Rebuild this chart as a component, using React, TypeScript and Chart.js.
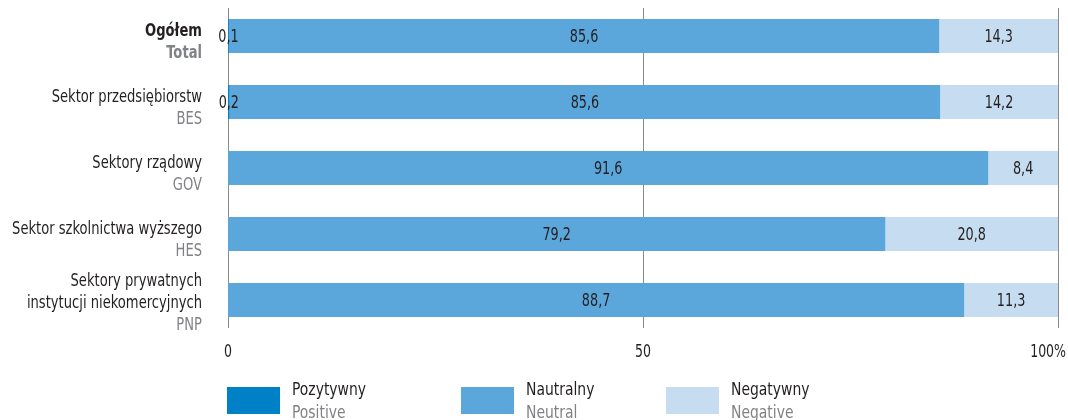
import React, { useEffect, useRef } from "react";
import { Chart, registerables } from "chart.js";

Chart.register(...registerables);

const categoriesPl: string[][] = [
  ["Ogółem"],
  ["Sektor przedsiębiorstw"],
  ["Sektory rządowy"],
  ["Sektor szkolnictwa wyższego"],
  ["Sektory prywatnych", "instytucji niekomercyjnych"],
];
const categoriesEn: string[] = ["Total", "BES", "GOV", "HES", "PNP"];

const positive: number[] = [0.1, 0.2, 0, 0, 0];
const neutral: number[] = [85.6, 85.6, 91.6, 79.2, 88.7];
const negative: number[] = [14.3, 14.2, 8.4, 20.8, 11.3];

const seriesPl: string[] = ["Pozytywny", "Nautralny", "Negatywny"];
const seriesEn: string[] = ["Positive", "Neutral", "Negative"];
const seriesColors: string[] = ["#0080C6", "#5BA6DA", "#C6DCF0"];

const xTicks: number[] = [0, 50, 100];

const FONT = '"DejaVu Sans Condensed", "Liberation Sans Narrow", sans-serif';
const DARK = "#231F20";
const GREY = "#808285";

const fmt = (v: number) => v.toFixed(1).replace(".", ",");

// draw text horizontally condensed to imitate a narrow typeface
function text(ctx: CanvasRenderingContext2D, s: string, x: number, y: number, align: "left" | "right" | "center", sx: number) {
  ctx.save();
  ctx.translate(x, y);
  ctx.scale(sx, 1);
  ctx.textAlign = align;
  ctx.fillText(s, 0, 0);
  ctx.restore();
}

const customPlugin = {
  id: "customDraw",
  beforeDatasetsDraw(chart: any) {
    const ctx = chart.ctx;
    const xs = chart.scales.x;
    const area = chart.chartArea;
    ctx.save();
    ctx.strokeStyle = "#8a8a8a";
    ctx.lineWidth = 1;
    xs.ticks.forEach((t: any) => {
      const px = Math.round(xs.getPixelForValue(t.value)) + 0.5;
      ctx.beginPath();
      ctx.moveTo(px, area.top + 5);
      ctx.lineTo(px, area.bottom - 5);
      ctx.stroke();
    });
    ctx.restore();
  },
  afterDatasetsDraw(chart: any) {
    const ctx = chart.ctx;
    ctx.save();
    ctx.font = `18px ${FONT}`;
    ctx.fillStyle = DARK;
    ctx.textBaseline = "middle";
    chart.data.datasets.forEach((ds: any, di: number) => {
      const meta = chart.getDatasetMeta(di);
      meta.data.forEach((el: any, i: number) => {
        const v = ds.data[i];
        if (!v) return;
        const cx = (el.x + el.base) / 2;
        text(ctx, fmt(v), cx, el.y + 1, "center", 0.79);
      });
    });
    ctx.restore();
  },
  afterDraw(chart: any) {
    const ctx = chart.ctx;
    const ys = chart.scales.y;
    const xs = chart.scales.x;
    const area = chart.chartArea;
    ctx.save();
    ctx.textBaseline = "alphabetic";
    const lx = area.left - 26;
    categoriesPl.forEach((lines, i) => {
      const cy = ys.getPixelForValue(i);
      const n = lines.length + 1;
      let y = cy - (n - 2) * 14;
      const bold = i === 0 ? "bold " : "";
      ctx.font = `${bold}18px ${FONT}`;
      ctx.fillStyle = DARK;
      lines.forEach((ln) => {
        text(ctx, ln, lx, y, "right", 0.81);
        y += 22;
      });
      ctx.fillStyle = GREY;
      text(ctx, categoriesEn[i], lx, y, "right", 0.81);
    });
    // x tick labels
    ctx.font = `17px ${FONT}`;
    ctx.fillStyle = DARK;
    const tsx = 0.82;
    xs.ticks.forEach((t: any, idx: number) => {
      const label = idx === xs.ticks.length - 1 ? `${t.value}%` : `${t.value}`;
      const w = ctx.measureText(label).width * tsx;
      let px = xs.getPixelForValue(t.value);
      px = Math.min(px, chart.width - w / 2 - 2);
      text(ctx, label, px, area.bottom + 24, "center", tsx);
    });
    // legend
    const legendX = [227, 461, 666];
    chart.data.datasets.forEach((ds: any, i: number) => {
      const bx = legendX[i];
      ctx.fillStyle = ds.backgroundColor;
      ctx.fillRect(bx, 387, 53, 27);
      ctx.font = `18px ${FONT}`;
      ctx.fillStyle = DARK;
      text(ctx, seriesPl[i], bx + 65, 395, "left", 0.86);
      ctx.fillStyle = GREY;
      text(ctx, seriesEn[i], bx + 65, 418, "left", 0.86);
    });
    ctx.restore();
  },
};

export default function App() {
  const ref = useRef<HTMLCanvasElement | null>(null);
  useEffect(() => {
    document.body.style.margin = "0";
    if (!ref.current) return;
    const data = [positive, neutral, negative];
    const chart = new Chart(ref.current, {
      type: "bar",
      data: {
        labels: categoriesEn,
        datasets: data.map((d, i) => ({
          label: seriesEn[i],
          data: d,
          backgroundColor: seriesColors[i],
          borderWidth: 0,
          categoryPercentage: 1,
          barPercentage: 0.515,
        })),
      },
      options: {
        indexAxis: "y",
        responsive: false,
        animation: false,
        layout: { padding: { left: 228, right: 10, top: 3, bottom: 0 } },
        plugins: { legend: { display: false }, tooltip: { enabled: false } },
        scales: {
          x: {
            stacked: true,
            min: 0,
            max: 100,
            afterBuildTicks: (s: any) => {
              s.ticks = xTicks.map((v) => ({ value: v }));
            },
            afterFit: (s: any) => {
              s.height = 87;
            },
            ticks: { display: false },
            grid: { display: false },
            border: { display: false },
          },
          y: {
            stacked: true,
            display: false,
            offset: true,
          },
        },
      },
      plugins: [customPlugin],
    } as any);
    return () => chart.destroy();
  }, []);
  return <canvas ref={ref} width={1068} height={420} style={{ display: "block" }} />;
}
